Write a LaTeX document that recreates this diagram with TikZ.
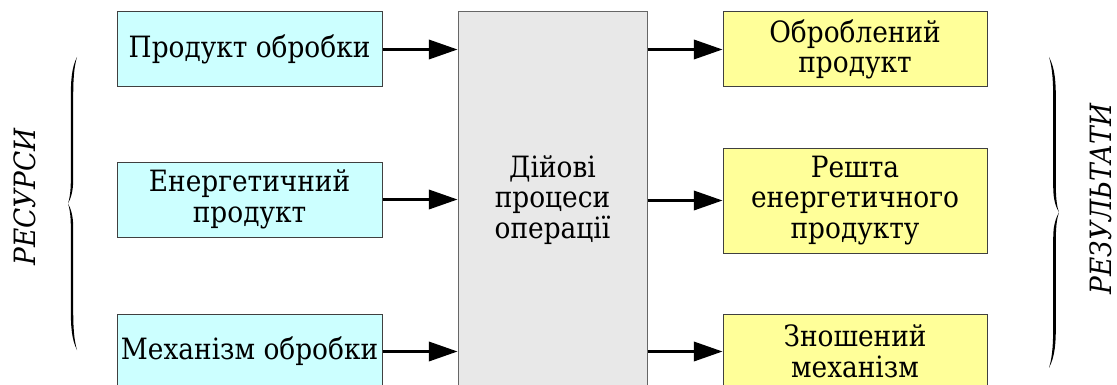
\documentclass[tikz,border=0pt]{standalone}
\usepackage{fontspec}
\IfFontExistsTF{DejaVu Serif Condensed}
  {\setmainfont{DejaVu Serif Condensed}}
  {\setmainfont{DejaVu Serif}}
\usetikzlibrary{arrows.meta}
\definecolor{incyan}{HTML}{CCFFFF}
\definecolor{outyellow}{HTML}{FFFF99}
\definecolor{procgray}{HTML}{E8E8E8}
\definecolor{edgegray}{HTML}{404040}
\begin{document}
\begin{tikzpicture}[x=0.75pt,y=-0.75pt,
  boxbase/.style={draw=edgegray, line width=0.75pt, inner sep=0pt, align=center,
    font=\fontsize{22}{23}\selectfont},
  inbox/.style={boxbase, fill=incyan, minimum width=198.75pt, minimum height=56.25pt},
  outbox/.style={boxbase, fill=outyellow, minimum width=198pt, minimum height=56.25pt},
  procbox/.style={boxbase, draw=edgegray!80, fill=procgray, minimum width=141.75pt, minimum height=282pt},
  flow/.style={line width=1.9pt, -{Triangle[length=21.5pt, width=14.5pt]}},
  sidelabel/.style={rotate=90, font=\itshape\fontsize{22}{24}\selectfont, inner sep=0pt},
  calbrace/.pic={
    \fill[black] (0,0) .. controls (-5.5,11) and (-6.2,23) .. (-6.2,43) -- (-6.2,123)
      .. controls (-6.2,135) and (-7.5,142) .. (-9,146.5)
      .. controls (-7.5,151) and (-6.2,158) .. (-6.2,170) -- (-6.2,250)
      .. controls (-6.2,270) and (-5.5,282) .. (0,293)
      .. controls (-3.2,282) and (-3.8,270) .. (-3.8,250) -- (-3.8,170)
      .. controls (-3.8,158) and (-6.5,151) .. (-9,146.5)
      .. controls (-6.5,142) and (-3.8,135) .. (-3.8,123) -- (-3.8,43)
      .. controls (-3.8,23) and (-3.2,11) .. (0,0) -- cycle;
  }]
\useasboundingbox (0,0) rectangle (1117,385);
\clip (0,0) rectangle (1117,385);

% inputs
\node[inbox] (r1) at (249.5,49.5) {Продукт обробки};
\node[inbox] (r2) at (249.5,199.5) {Енергетичний\\продукт};
\node[inbox] (r3) at (249.5,351.5) {Механізм обробки};

% process
\node[procbox] (p) at (552.5,200) {Дійові\\процеси\\операції};

% outputs
\node[outbox] (o1) at (855,49.5) {Оброблений\\продукт};
\node[outbox, minimum height=78.75pt] (o2) at (855,200.5) {Решта\\енергетичного\\продукту};
\node[outbox] (o3) at (855,351.5) {Зношений\\механізм};

% flows
\draw[flow] (r1.east) -- (p.west |- r1.east);
\draw[flow] (r2.east) -- (p.west |- r2.east);
\draw[flow] (r3.east) -- (p.west |- r3.east);
\draw[flow] (p.east |- o1.west) -- (o1.west);
\draw[flow] (p.east |- o2.west) -- (o2.west);
\draw[flow] (p.east |- o3.west) -- (o3.west);

% braces and group labels
\pic at (77,57) {calbrace};
\pic[xscale=-1.11, yscale=1.061] at (1049,57) {calbrace};
\node[sidelabel] (res) at (25,197) {РЕСУРСИ};
\node[sidelabel] (out) at (1101,199) {РЕЗУЛЬТАТИ};
\end{tikzpicture}
\end{document}
